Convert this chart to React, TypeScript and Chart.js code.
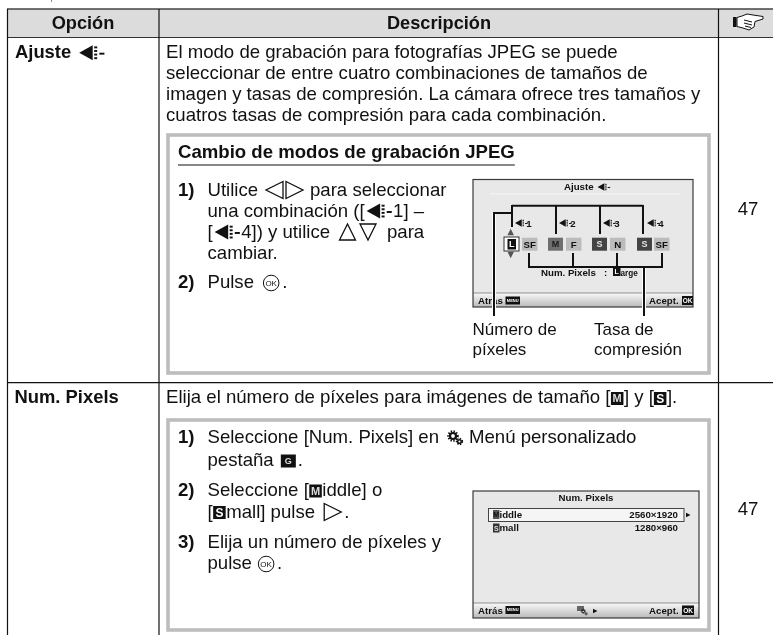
import React, { useEffect, useRef } from "react";
import { Chart, registerables } from "chart.js";

Chart.register(...registerables);

// ---- content ----
const headers = ["Opción", "Descripción"];
const optionNames = ["Ajuste", "Num. Pixels"];
const pageRefs = ["47", "47"];
const intro = [
  "El modo de grabación para fotografías JPEG se puede",
  "seleccionar de entre cuatro combinaciones de tamaños de",
  "imagen y tasas de compresión. La cámara ofrece tres tamaños y",
  "cuatros tasas de compresión para cada combinación.",
];
const boxTitle = "Cambio de modos de grabación JPEG";
const stepNumbers = ["1)", "2)", "3)"];
const captions = ["Número de", "píxeles", "Tasa de", "compresión"];
const chipLabels = ["SF", "F", "N", "SF"];
const sizeLabels = ["L", "M", "S", "S"];
const comboLabels = ["1", "2", "3", "4"];
const lcd2Rows = ["iddle", "mall"];
const lcd2Values = ["2560×1920", "1280×960"];

const FONT = '"Liberation Sans", Arial, sans-serif';
const INK = "#111111";

type Ctx = CanvasRenderingContext2D;

function text(c: Ctx, s: string, x: number, y: number, size: number, bold = false, align: CanvasTextAlign = "left", color = INK) {
  c.font = `${bold ? "bold " : ""}${size}px ${FONT}`;
  c.textAlign = align;
  c.textBaseline = "alphabetic";
  c.fillStyle = color;
  c.fillText(s, x, y);
  return c.measureText(s).width;
}
function line(c: Ctx, x1: number, y1: number, x2: number, y2: number, w = 1, color = INK) {
  c.strokeStyle = color;
  c.lineWidth = w;
  c.beginPath();
  c.moveTo(x1, y1);
  c.lineTo(x2, y2);
  c.stroke();
}
function rect(c: Ctx, x: number, y: number, w: number, h: number, color: string) {
  c.fillStyle = color;
  c.fillRect(x, y, w, h);
}
function poly(c: Ctx, pts: number[], fill: string | null, stroke?: string, lw = 1) {
  c.beginPath();
  c.moveTo(pts[0], pts[1]);
  for (let i = 2; i < pts.length; i += 2) c.lineTo(pts[i], pts[i + 1]);
  c.closePath();
  if (fill) { c.fillStyle = fill; c.fill(); }
  if (stroke) { c.strokeStyle = stroke; c.lineWidth = lw; c.stroke(); }
}
// the camera's JPEG-quality glyph: arrow + dots + dash; s = height
function qualityIcon(c: Ctx, x: number, cy: number, s: number, color = INK) {
  const h = s / 2;
  poly(c, [x, cy, x + s * 0.9, cy - h, x + s * 0.9, cy + h], color);
  const dx = x + s * 1.0;
  for (const o of [-0.36, -0.12, 0.12, 0.36]) rect(c, dx, cy + o * s - s * 0.06, s * 0.2, s * 0.13, color);
  rect(c, dx + s * 0.34, cy, s * 0.34, s * 0.13, color);
  return s * 1.7;
}
function okIcon(c: Ctx, cx: number, cy: number) {
  c.strokeStyle = INK;
  c.lineWidth = 1;
  c.beginPath();
  c.arc(cx, cy, 7.8, 0, Math.PI * 2);
  c.stroke();
  text(c, "OK", cx, cy + 2.8, 8, false, "center");
}
function letterBox(c: Ctx, ch: string, x: number, y: number, w: number, h: number, bg = "#111", fg = "#fff", size = 11) {
  rect(c, x, y, w, h, bg);
  text(c, ch, x + w / 2, y + h / 2 + size * 0.36, size, true, "center", fg);
}
function handIcon(c: Ctx, x: number, y: number) {
  rect(c, x, y + 3, 3.5, 10, INK);
  c.strokeStyle = INK;
  c.lineWidth = 1;
  c.fillStyle = "#fff";
  c.beginPath();
  c.moveTo(x + 4, y + 3.5);
  c.lineTo(x + 9, y + 2);
  c.lineTo(x + 14, y);
  c.lineTo(x + 20, y + 1);
  c.lineTo(x + 30, y + 2.5);
  c.lineTo(x + 30, y + 5);
  c.lineTo(x + 22, y + 7.5);
  c.lineTo(x + 21, y + 13);
  c.lineTo(x + 16, y + 16);
  c.lineTo(x + 10, y + 14);
  c.lineTo(x + 4, y + 12.5);
  c.closePath();
  c.fill();
  c.stroke();
  line(c, x + 11, y + 6, x + 19, y + 8);
  line(c, x + 11, y + 9, x + 19, y + 11);
  line(c, x + 12, y + 12, x + 18, y + 13.5);
}
function tri(c: Ctx, dir: "l" | "r" | "u" | "d", x: number, y: number, s: number, fill: string | null = null, lw = 1.3) {
  const p: Record<string, number[]> = {
    r: [x, y - s / 2, x + s, y, x, y + s / 2],
    l: [x + s, y - s / 2, x, y, x + s, y + s / 2],
    u: [x - s / 2, y + s / 2, x + s / 2, y + s / 2, x, y - s / 2],
    d: [x - s / 2, y - s / 2, x + s / 2, y - s / 2, x, y + s / 2],
  };
  poly(c, p[dir], fill, fill ? undefined : INK, lw);
}
function gearIcon(c: Ctx, x: number, y: number, k = 1) {
  for (const [cx, cy, r, lw] of [[x + 5 * k, y + 5 * k, 3 * k, 2.2 * k], [x + 11.5 * k, y + 10.5 * k, 1.8 * k, 1.5 * k]] as number[][]) {
    c.strokeStyle = INK;
    c.lineWidth = lw;
    c.beginPath();
    c.arc(cx, cy, r, 0, Math.PI * 2);
    c.stroke();
    c.lineWidth = lw * 0.9;
    c.setLineDash([1.4 * k, 1.4 * k]);
    c.beginPath();
    c.arc(cx, cy, r + lw * 0.8, 0, Math.PI * 2);
    c.stroke();
    c.setLineDash([]);
  }
}
function lcdFrame(c: Ctx, x: number, y: number, w: number, h: number, barY: number) {
  rect(c, x, y, w, h, "#e8e8e8");
  const g = c.createLinearGradient(x, barY, x, y + h);
  g.addColorStop(0, "#fafafa");
  g.addColorStop(1, "#b9b9b9");
  rect(c, x, barY, w, y + h - barY, g as unknown as string);
  line(c, x, barY, x + w, barY, 0.8, "#777");
  c.strokeStyle = "#3a3a3a";
  c.lineWidth = 1.2;
  c.strokeRect(x, y, w, h);
}

const tablePlugin = {
  id: "manualPage",
  afterDraw(chart: any) {
    const c: Ctx = chart.ctx;
    const X = (v: number) => chart.scales.x.getPixelForValue(v);
    const Y = (v: number) => chart.scales.y.getPixelForValue(v);
    c.save();
    rect(c, X(0), Y(0), 773, 635, "#ffffff");

    // stray descender above the table
    rect(c, X(51), Y(0), 1, 2, "#888");

    // table header and rules
    rect(c, X(7), Y(9), 766, 28.5, "#dcdcdc");
    line(c, X(7), Y(9), X(773), Y(9), 1.4, "#444");
    line(c, X(7), Y(37.5), X(773), Y(37.5), 1, "#333");
    line(c, X(7.5), Y(9), X(7.5), Y(635), 1.2);
    line(c, X(159), Y(9), X(159), Y(635), 1.2);
    line(c, X(718.5), Y(9), X(718.5), Y(635), 1.2);
    line(c, X(7), Y(382.7), X(773), Y(382.7), 1.2);

    text(c, headers[0], X(83), Y(29), 18.2, true, "center");
    text(c, headers[1], X(439), Y(29), 18.2, true, "center");
    handIcon(c, X(733), Y(14));

    // row labels
    const HB = 18.4;
    const w0 = text(c, optionNames[0], X(15), Y(58), HB, true);
    qualityIcon(c, X(15) + w0 + 8, Y(52.7), 15);
    text(c, optionNames[1], X(14.5), Y(403), HB, true);

    text(c, pageRefs[0], X(748), Y(215), 18.6, false, "center");
    text(c, pageRefs[1], X(748), Y(515), 18.6, false, "center");

    // intro paragraph
    const B = 18.6;
    const L = 207.5;
    intro.forEach((s, i) => text(c, s, X(166), Y(57.5 + i * 21), B));

    // box 1
    c.strokeStyle = "#bdbdbd";
    c.lineWidth = 3.6;
    c.strokeRect(X(168), Y(135), 541, 238);
    const wt = text(c, boxTitle, X(178), Y(158), B, true);
    line(c, X(178), Y(165), X(178) + wt, Y(165), 1);

    text(c, stepNumbers[0], X(178), Y(196), B, true);
    let w = text(c, "Utilice ", X(L), Y(196), B);
    tri(c, "l", X(266), Y(190), 17);
    tri(c, "r", X(286), Y(190), 17);
    text(c, "para seleccionar", X(310), Y(196), B);
    w = text(c, "una combinación ([", X(L), Y(217), B);
    let ic = qualityIcon(c, X(L) + w + 2, Y(211), 15);
    text(c, "1] –", X(L) + w + ic + 3, Y(217), B);
    w = text(c, "[", X(L), Y(238), B);
    ic = qualityIcon(c, X(L) + w + 2, Y(232), 15);
    text(c, "4]) y utilice", X(L) + w + ic + 3, Y(238), B);
    tri(c, "u", X(347.5), Y(232), 16);
    tri(c, "d", X(368), Y(232), 16);
    text(c, "para", X(387), Y(238), B);
    text(c, "cambiar.", X(L), Y(259), B);
    text(c, stepNumbers[1], X(178), Y(288), B, true);
    w = text(c, "Pulse ", X(L), Y(288), B);
    okIcon(c, X(L) + w + 12, Y(283));
    text(c, ".", X(L) + w + 23, Y(288), B);

    // LCD 1
    lcdFrame(c, X(473), Y(179.5), 220, 127.5, Y(293));
    const LB = 9.7;
    const wa = text(c, "Ajuste", X(564), Y(190), LB, true);
    qualityIcon(c, X(564) + wa + 4, Y(187), 7.5);
    line(c, X(490), Y(194), X(680), Y(194), 1, "#f6f6f6");

    const comboX = [515, 559, 603, 647];
    comboX.forEach((x, i) => {
      const iw = qualityIcon(c, X(x), Y(223), 7.5);
      text(c, comboLabels[i], X(x) + iw - 1.5, Y(226.5), LB, true);
    });
    tri(c, "u", X(510.7), Y(232), 6.5, "#555");
    tri(c, "d", X(510.7), Y(255), 6.5, "#555");

    // chips
    const chipH = 13;
    const chipY = 237.7;
    const sizeX = [506, 548, 592, 637];
    const labelX = [522, 566, 610, 654];
    const sizeBg = ["#111", "#6e6e6e", "#444", "#444"];
    const sizeFg = ["#fff", "#1c1c1c", "#e4e4e4", "#e4e4e4"];
    labelX.forEach((x, i) => {
      rect(c, X(x), Y(chipY), 15.5, chipH, "#bcbcbc");
      text(c, chipLabels[i], X(x + 7.7), Y(chipY + 10), LB, true, "center");
    });
    c.strokeStyle = "#333";
    c.lineWidth = 1;
    rect(c, X(504), Y(237), 15, 14, "#ffffff");
    c.strokeRect(X(504), Y(237), 15, 14);
    sizeX.forEach((x, i) => {
      if (i === 0) letterBox(c, sizeLabels[i], X(507.5), Y(chipY + 1.3), 8.5, 10.5, sizeBg[i], sizeFg[i], 9);
      else letterBox(c, sizeLabels[i], X(x), Y(chipY), 15, chipH, sizeBg[i], sizeFg[i], 9);
    });

    text(c, "Num. Pixels", X(541), Y(275.7), LB, true);
    text(c, ":", X(604), Y(275.7), LB, true);
    letterBox(c, "L", X(613), Y(267.5), 7.5, 8.5, "#111", "#fff", 7);
    text(c, "arge", X(620.5), Y(275.7), 8.2, true);

    text(c, "Atrás", X(478), Y(304), LB, true);
    letterBox(c, "MENU", X(505.5), Y(296.5), 14.5, 8, "#111", "#fff", 4);
    text(c, "Acept.", X(649), Y(304), LB, true);
    letterBox(c, "OK", X(682), Y(296), 11, 9, "#111", "#fff", 6.5);

    // callouts
    line(c, X(494), Y(213), X(494), Y(316), 4, "#ffffff");
    line(c, X(644), Y(268), X(644), Y(316), 4, "#ffffff");
    line(c, X(512), Y(205.7), X(643), Y(205.7), 2, INK);
    [512, 556, 600, 643].forEach((x, i) => line(c, X(x), Y(205), X(x), Y(i === 0 ? 227 : 234), 2));
    line(c, X(493), Y(213), X(513), Y(213), 2);
    line(c, X(494), Y(212), X(494), Y(316), 2);
    line(c, X(528), Y(267), X(663), Y(267), 2);
    [529, 573, 617, 662].forEach((x) => line(c, X(x), Y(253), X(x), Y(267), 2));
    line(c, X(644), Y(267), X(644), Y(316), 2);

    const CAP = 17;
    text(c, captions[0], X(472.5), Y(335), CAP);
    text(c, captions[1], X(472.5), Y(355), CAP);
    text(c, captions[2], X(594), Y(335), CAP);
    text(c, captions[3], X(594), Y(355), CAP);

    // row 2 text
    w = text(c, "Elija el número de píxeles para imágenes de tamaño [", X(166), Y(403), B);
    letterBox(c, "M", X(166) + w + 0.5, Y(392), 12.5, 13, "#111", "#ddd", 11);
    const w2 = text(c, "] y [", X(166) + w + 13.5, Y(403), B);
    letterBox(c, "S", X(166) + w + 13.5 + w2, Y(392), 12.5, 13, "#111", "#fff", 12);
    text(c, "].", X(166) + w + 26.5 + w2, Y(403), B);

    // box 2
    c.strokeStyle = "#bdbdbd";
    c.lineWidth = 3.6;
    c.strokeRect(X(168), Y(420), 541, 210);

    text(c, stepNumbers[0], X(178), Y(443), B, true);
    text(c, "Seleccione [Num. Pixels] en", X(L), Y(443), B);
    gearIcon(c, X(448), Y(431));
    text(c, "Menú personalizado", X(469), Y(443), B);
    w = text(c, "pestaña ", X(L), Y(466), B);
    letterBox(c, "G", X(L) + w + 2, Y(454.5), 15, 13, "#111", "#ddd", 9);
    text(c, ".", X(L) + w + 19, Y(466), B);

    text(c, stepNumbers[1], X(178), Y(496), B, true);
    w = text(c, "Seleccione [", X(L), Y(496), B);
    letterBox(c, "M", X(L) + w + 0.5, Y(484.5), 12.5, 13, "#111", "#ddd", 11);
    text(c, "iddle] o", X(L) + w + 13.5, Y(496), B);
    w = text(c, "[", X(L), Y(518), B);
    letterBox(c, "S", X(L) + w + 0.5, Y(506), 12.5, 13, "#111", "#fff", 12);
    w = text(c, "mall] pulse ", X(L) + w + 13.5, Y(518), B) + w + 13.5;
    tri(c, "r", X(L) + w + 4, Y(512), 17);
    text(c, ".", X(L) + w + 24, Y(518), B);

    text(c, stepNumbers[2], X(178), Y(548), B, true);
    text(c, "Elija un número de píxeles y", X(L), Y(548), B);
    w = text(c, "pulse ", X(L), Y(569), B);
    okIcon(c, X(L) + w + 9, Y(564));
    text(c, ".", X(L) + w + 20, Y(569), B);

    // LCD 2
    lcdFrame(c, X(473), Y(491), 226, 127, Y(603));
    text(c, "Num. Pixels", X(586), Y(501), LB, true, "center");
    rect(c, X(488.5), Y(508.5), 195.5, 13, "#f5f5f5");
    c.strokeStyle = "#444";
    c.lineWidth = 1;
    c.strokeRect(X(488.5), Y(508.5), 195.5, 13);
    tri(c, "r", X(686), Y(515), 4.5, INK);
    letterBox(c, "M", X(493), Y(510), 6.5, 9, "#555", "#111", 7);
    letterBox(c, "S", X(493), Y(523.5), 6.5, 9, "#333", "#ddd", 7);
    lcd2Rows.forEach((s, i) => {
      text(c, s, X(499.5), Y(517.5 + i * 13.3), LB, true);
      text(c, lcd2Values[i], X(678), Y(517.5 + i * 13.3), LB, true, "right");
    });
    text(c, "Atrás", X(478), Y(613.5), LB, true);
    letterBox(c, "MENU", X(505.5), Y(606), 14.5, 8, "#111", "#fff", 4);
    rect(c, X(577), Y(606), 7, 5, "#666");
    gearIcon(c, X(581), Y(609), 0.45);
    tri(c, "r", X(593), Y(611), 4.5, INK);
    text(c, "Acept.", X(649), Y(613.5), LB, true);
    letterBox(c, "OK", X(682), Y(605.5), 12, 9.5, "#111", "#fff", 6.5);
    c.restore();
  },
};

export default function App() {
  const ref = useRef<HTMLCanvasElement>(null);
  useEffect(() => {
    const chart = new Chart(ref.current!, {
      type: "scatter",
      data: { datasets: [{ data: [] }] },
      plugins: [tablePlugin],
      options: {
        animation: false,
        responsive: false,
        events: [],
        layout: { padding: 0 },
        plugins: { legend: { display: false }, tooltip: { enabled: false } },
        scales: {
          x: { type: "linear", display: false, min: 0, max: 773 },
          y: { type: "linear", display: false, min: 0, max: 635, reverse: true },
        },
      },
    } as any);
    return () => chart.destroy();
  }, []);
  return <canvas ref={ref} width={773} height={635} style={{ position: "fixed", left: 0, top: 0, width: 773, height: 635 }} />;
}
